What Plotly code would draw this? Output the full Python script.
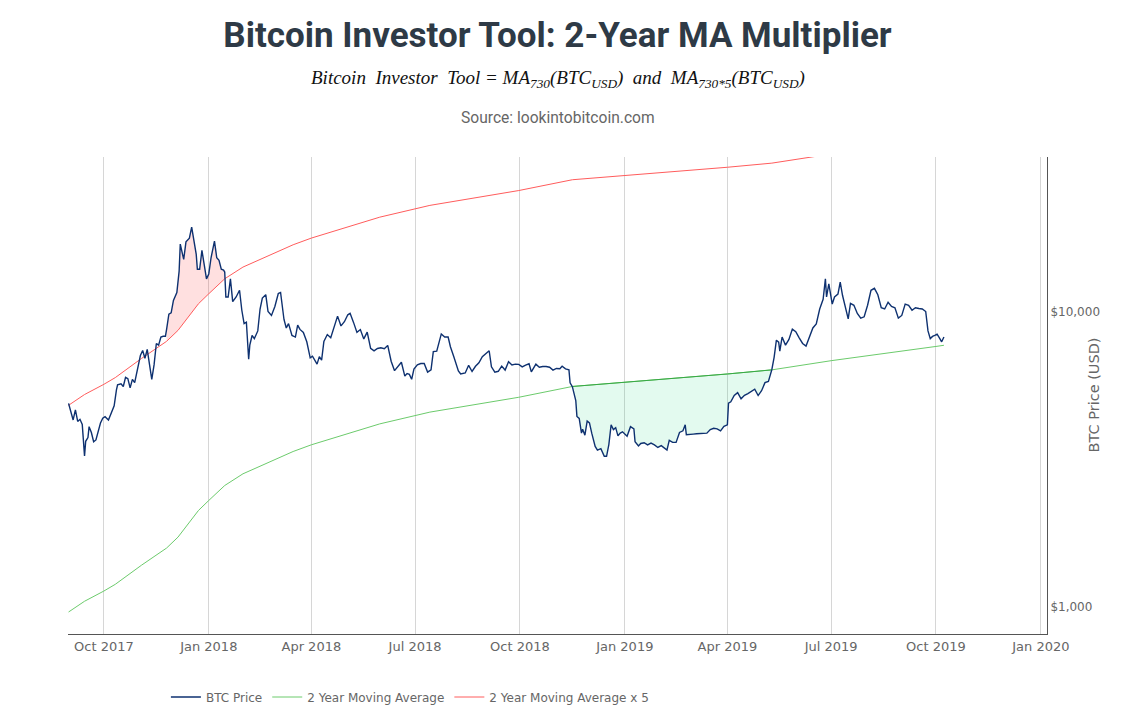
import plotly.graph_objects as go

# BTC daily close (USD)
price_dates = [
    '2017-08-31', '2017-09-02', '2017-09-04', '2017-09-06', '2017-09-08', '2017-09-10', '2017-09-12',
    '2017-09-14', '2017-09-15', '2017-09-17', '2017-09-18', '2017-09-20', '2017-09-22', '2017-09-24',
    '2017-09-26', '2017-09-28', '2017-09-30', '2017-10-02', '2017-10-05', '2017-10-08', '2017-10-10',
    '2017-10-12', '2017-10-13', '2017-10-16', '2017-10-18', '2017-10-20', '2017-10-22', '2017-10-24',
    '2017-10-26', '2017-10-28', '2017-10-31', '2017-11-02', '2017-11-04', '2017-11-06', '2017-11-08',
    '2017-11-10', '2017-11-12', '2017-11-14', '2017-11-16', '2017-11-18', '2017-11-20', '2017-11-22',
    '2017-11-24', '2017-11-25', '2017-11-27', '2017-11-29', '2017-12-01', '2017-12-04', '2017-12-06',
    '2017-12-07', '2017-12-08', '2017-12-10', '2017-12-12', '2017-12-15', '2017-12-17', '2017-12-19',
    '2017-12-21', '2017-12-22', '2017-12-24', '2017-12-26', '2017-12-28', '2017-12-30',
    '2018-01-01', '2018-01-03', '2018-01-06', '2018-01-08', '2018-01-10', '2018-01-12', '2018-01-14',
    '2018-01-15', '2018-01-16', '2018-01-18', '2018-01-20', '2018-01-22', '2018-01-25', '2018-01-28',
    '2018-01-30', '2018-02-01', '2018-02-03', '2018-02-05', '2018-02-06', '2018-02-08', '2018-02-10',
    '2018-02-13', '2018-02-15', '2018-02-17', '2018-02-20', '2018-02-22', '2018-02-25', '2018-02-28',
    '2018-03-03', '2018-03-05', '2018-03-08', '2018-03-10', '2018-03-12', '2018-03-15', '2018-03-18',
    '2018-03-20', '2018-03-22', '2018-03-25', '2018-03-28', '2018-03-31', '2018-04-02', '2018-04-04',
    '2018-04-06', '2018-04-08', '2018-04-10', '2018-04-12', '2018-04-15', '2018-04-18', '2018-04-21',
    '2018-04-24', '2018-04-27', '2018-04-30', '2018-05-03', '2018-05-05', '2018-05-08', '2018-05-11',
    '2018-05-14', '2018-05-17', '2018-05-20', '2018-05-23', '2018-05-26', '2018-05-29', '2018-06-01',
    '2018-06-04', '2018-06-07', '2018-06-10', '2018-06-13', '2018-06-16', '2018-06-19', '2018-06-22',
    '2018-06-24', '2018-06-26', '2018-06-28', '2018-06-30', '2018-07-03', '2018-07-06', '2018-07-09',
    '2018-07-12', '2018-07-15', '2018-07-17', '2018-07-20', '2018-07-24', '2018-07-27', '2018-07-30',
    '2018-08-01', '2018-08-04', '2018-08-08', '2018-08-10', '2018-08-14', '2018-08-17', '2018-08-20',
    '2018-08-23', '2018-08-26', '2018-08-29', '2018-09-01', '2018-09-04', '2018-09-06', '2018-09-09',
    '2018-09-12', '2018-09-15', '2018-09-18', '2018-09-21', '2018-09-24', '2018-09-27', '2018-09-30',
    '2018-10-03', '2018-10-06', '2018-10-09', '2018-10-11', '2018-10-15', '2018-10-18', '2018-10-21',
    '2018-10-24', '2018-10-27', '2018-10-30', '2018-11-02', '2018-11-05', '2018-11-07', '2018-11-10',
    '2018-11-13', '2018-11-14', '2018-11-16', '2018-11-19', '2018-11-20', '2018-11-22', '2018-11-24',
    '2018-11-25', '2018-11-27', '2018-11-29', '2018-12-01', '2018-12-03', '2018-12-06', '2018-12-08',
    '2018-12-11', '2018-12-14', '2018-12-16', '2018-12-18', '2018-12-20', '2018-12-22', '2018-12-24',
    '2018-12-26', '2018-12-28', '2018-12-30',
    '2019-01-01', '2019-01-03', '2019-01-06', '2019-01-09', '2019-01-10', '2019-01-13', '2019-01-15',
    '2019-01-18', '2019-01-21', '2019-01-24', '2019-01-27', '2019-01-30', '2019-02-02', '2019-02-05',
    '2019-02-07', '2019-02-09', '2019-02-12', '2019-02-15', '2019-02-18', '2019-02-21', '2019-02-23',
    '2019-02-24', '2019-02-27', '2019-03-02', '2019-03-05', '2019-03-08', '2019-03-11', '2019-03-14',
    '2019-03-17', '2019-03-20', '2019-03-23', '2019-03-26', '2019-03-29', '2019-04-01', '2019-04-02',
    '2019-04-04', '2019-04-07', '2019-04-10', '2019-04-13', '2019-04-16', '2019-04-19', '2019-04-22',
    '2019-04-25', '2019-04-28', '2019-05-01', '2019-05-04', '2019-05-07', '2019-05-10', '2019-05-12',
    '2019-05-14', '2019-05-16', '2019-05-17', '2019-05-19', '2019-05-22', '2019-05-25', '2019-05-28',
    '2019-05-31', '2019-06-03', '2019-06-06', '2019-06-09', '2019-06-12', '2019-06-15', '2019-06-18',
    '2019-06-21', '2019-06-24', '2019-06-26', '2019-06-27', '2019-06-29', '2019-07-02', '2019-07-04',
    '2019-07-07', '2019-07-09', '2019-07-11', '2019-07-14', '2019-07-16', '2019-07-18', '2019-07-21',
    '2019-07-24', '2019-07-27', '2019-07-30', '2019-08-02', '2019-08-05', '2019-08-08', '2019-08-11',
    '2019-08-14', '2019-08-17', '2019-08-20', '2019-08-23', '2019-08-26', '2019-08-29', '2019-09-01',
    '2019-09-04', '2019-09-07', '2019-09-10', '2019-09-13', '2019-09-16', '2019-09-19', '2019-09-22',
    '2019-09-24', '2019-09-26', '2019-09-28', '2019-09-30', '2019-10-02', '2019-10-04', '2019-10-06',
    '2019-10-08',
]
price_values = [
    4890, 4580, 4300, 4650, 4250, 4320, 4150,
    3250, 3640, 3750, 4080, 3900, 3630, 3680,
    3920, 4200, 4360, 4410, 4300, 4600, 4800,
    5430, 5650, 5700, 5580, 5990, 5930, 5520,
    5900, 5750, 6450, 7100, 7380, 6950, 7450,
    6600, 5900, 6600, 7800, 7700, 8200, 8250,
    8250, 8700, 9800, 9900, 10900, 11600, 13700,
    16900, 16100, 15000, 17200, 17700, 19300, 17500,
    15600, 13900, 13900, 16100, 14600, 12900,
    13400, 15200, 17300, 15200, 14900, 13900, 13800,
    13600, 11200, 11200, 12900, 10800, 11200, 11800,
    10100, 9100, 9200, 6900, 7700, 8300, 8100,
    8600, 10200, 11100, 11400, 10000, 9700, 10400,
    11500, 11600, 9400, 8800, 9100, 8300, 8200,
    9000, 8700, 8500, 7900, 6970, 7060, 6810,
    6640, 7040, 6850, 7920, 8360, 8160, 8860,
    9650, 8940, 9240, 9750, 9860, 9190, 8500,
    8690, 8080, 8520, 7510, 7360, 7500, 7540,
    7490, 7680, 6790, 6310, 6500, 6740, 6050,
    6170, 6130, 5900, 6390, 6600, 6670, 6670,
    6240, 6350, 7320, 7350, 8400, 8200, 8200,
    7600, 7030, 6300, 6150, 6200, 6580, 6270,
    6530, 6710, 7040, 7200, 7370, 6500, 6240,
    6280, 6540, 6340, 6770, 6600, 6640, 6630,
    6500, 6590, 6660, 6250, 6640, 6480, 6520,
    6520, 6480, 6340, 6420, 6410, 6530, 6400,
    6350, 5740, 5570, 5000, 4420, 4350, 3880,
    4000, 3820, 4260, 4200, 3880, 3500, 3400,
    3440, 3240, 3240, 3550, 4140, 3990, 4050,
    3800, 3880, 3920,
    3840, 3790, 4080, 4010, 3630, 3510, 3580,
    3600, 3540, 3590, 3540, 3470, 3520, 3450,
    3400, 3670, 3610, 3610, 3900, 3950, 4140,
    3830, 3830, 3850, 3860, 3860, 3880, 3880,
    3990, 4030, 4010, 3950, 4090, 4140, 4900,
    4950, 5200, 5320, 5070, 5210, 5280, 5380,
    5460, 5200, 5400, 5750, 5800, 6360, 7000,
    8000, 7880, 7350, 8200, 7700, 8050, 8720,
    8550, 8150, 7800, 7640, 8200, 8800, 9080,
    10200, 11000, 12900, 11200, 12400, 10600, 11200,
    11450, 12570, 11350, 10200, 9450, 10650, 10500,
    9850, 9500, 9600, 10500, 11800, 11980, 11400,
    10300, 10200, 10750, 10400, 10300, 9500, 9700,
    10600, 10500, 10100, 10300, 10240, 10200, 10000,
    8600, 8100, 8240, 8300, 8380, 8150, 7900,
    8200,
]

# 2 year (730 day) moving average
ma_dates = [
    '2017-08-31', '2017-09-14', '2017-10-01', '2017-10-11', '2017-11-03', '2017-11-25',
    '2017-12-05', '2017-12-23', '2018-01-01', '2018-01-15', '2018-01-31', '2018-03-16',
    '2018-04-01', '2018-05-31', '2018-07-14', '2018-09-30', '2018-11-16', '2019-01-01',
    '2019-03-25', '2019-04-01', '2019-05-10', '2019-07-01', '2019-10-01', '2019-10-08',
]
ma_values = [
    964, 1048, 1135, 1196, 1388, 1586,
    1727, 2126, 2297, 2581, 2827, 3363,
    3543, 4170, 4570, 5130, 5580, 5764,
    6110, 6150, 6350, 6820, 7620, 7690,
]
ma5_values = [v * 5 for v in ma_values]

# periods where price is above MA x5 (red) and below MA (green)
top_zone = ('2017-11-25', '2018-01-15')
bottom_zone = ('2018-11-16', '2019-05-10')


def zone_polygon(zone, d_a, v_a, d_b, v_b):
    # closed shape: price path forward, MA path back
    a = [(d, v) for d, v in zip(d_a, v_a) if zone[0] <= d <= zone[1]]
    b = [(d, v) for d, v in zip(d_b, v_b) if zone[0] <= d <= zone[1]][::-1]
    pts = a + b + [a[0]]
    return [p[0] for p in pts], [p[1] for p in pts]


fig = go.Figure()

tx, ty = zone_polygon(top_zone, price_dates, price_values, ma_dates, ma5_values)
fig.add_trace(go.Scatter(x=tx, y=ty, mode='lines', fill='toself',
                         fillcolor='rgba(255,0,0,0.12)', line=dict(width=0),
                         showlegend=False, hoverinfo='skip'))

bx, by = zone_polygon(bottom_zone, price_dates, price_values, ma_dates, ma_values)
fig.add_trace(go.Scatter(x=bx, y=by, mode='lines', fill='toself',
                         fillcolor='rgba(0,210,110,0.11)', line=dict(width=0),
                         showlegend=False, hoverinfo='skip'))

fig.add_trace(go.Scatter(x=ma_dates, y=ma_values, mode='lines', name='2 Year Moving Average',
                         line=dict(color='#6ccb6c', width=1), legendrank=2))

# MA edge of the green zone is drawn a bit darker in the original
zone_ma = [(d, v) for d, v in zip(ma_dates, ma_values) if bottom_zone[0] <= d <= bottom_zone[1]]
fig.add_trace(go.Scatter(x=[p[0] for p in zone_ma], y=[p[1] for p in zone_ma], mode='lines',
                         line=dict(color='#38a845', width=1), showlegend=False, hoverinfo='skip'))

fig.add_trace(go.Scatter(x=ma_dates, y=ma5_values, mode='lines', name='2 Year Moving Average x 5',
                         line=dict(color='#ff5c5c', width=1), legendrank=3))
fig.add_trace(go.Scatter(x=price_dates, y=price_values, mode='lines', name='BTC Price',
                         line=dict(color='#0e3170', width=1.4), legendrank=1))

# page body keeps an 8px margin, so the figure is sized to fit inside it
fig.update_layout(
    width=1131, height=697,
    paper_bgcolor='white', plot_bgcolor='white',
    margin=dict(l=60, r=92, t=149, b=71, autoexpand=False),
    title=dict(text='<b>Bitcoin Investor Tool: 2-Year MA Multiplier</b>',
               x=0.5, xref='paper', xanchor='center',
               y=1 - 27 / 697, yref='container', yanchor='middle',
               font=dict(family='Roboto', size=35, color='#2e3a46')),
    font=dict(family='DejaVu Sans', size=12, color='#666666'),
    showlegend=True,
    legend=dict(orientation='h', x=0.1, xanchor='left',
                yref='container', y=8 / 697, yanchor='middle',
                font=dict(family='DejaVu Sans', size=12, color='#666666'),
                bgcolor='rgba(0,0,0,0)'),
    annotations=[
        dict(text='<i>Bitcoin  Investor  Tool = MA<sub>730</sub>(BTC<sub>USD</sub>)  and  '
                  'MA<sub>730*5</sub>(BTC<sub>USD</sub>)</i>',
             xref='paper', yref='paper', x=0.5, y=1.163, xanchor='center', yanchor='middle',
             showarrow=False, font=dict(family='Liberation Serif', size=19, color='#111111')),
        dict(text='Source: lookintobitcoin.com',
             xref='paper', yref='paper', x=0.5, y=1.0818, xanchor='center', yanchor='middle',
             showarrow=False, font=dict(family='Roboto', size=15.6, color='#666666')),
        dict(text='BTC Price (USD)', textangle=-90,
             xref='paper', yref='paper', x=1.047, y=0.5, xanchor='center', yanchor='middle',
             showarrow=False, font=dict(family='DejaVu Sans', size=14.5, color='#666666')),
    ],
)

fig.update_xaxes(
    type='date', range=['2017-08-30 12:00', '2020-01-06 10:00'],
    dtick='M3', tick0='2017-10-01', tickformat='%b %Y',
    showgrid=True, gridcolor='#d6d6d6', gridwidth=1,
    showline=True, linecolor='#555555', linewidth=1,
    ticks='', zeroline=False, automargin=False,
    tickfont=dict(family='DejaVu Sans', size=13, color='#666666'),
)
fig.update_yaxes(
    type='log', range=[2.9097, 4.5225], side='right',
    dtick=1, tickprefix='$', tickformat=',.0f',
    showgrid=False, showline=True, linecolor='#555555', linewidth=1,
    ticks='', zeroline=False, automargin=False,
    tickfont=dict(family='DejaVu Sans', size=12, color='#666666'),
)

fig.write_html("out.html")
